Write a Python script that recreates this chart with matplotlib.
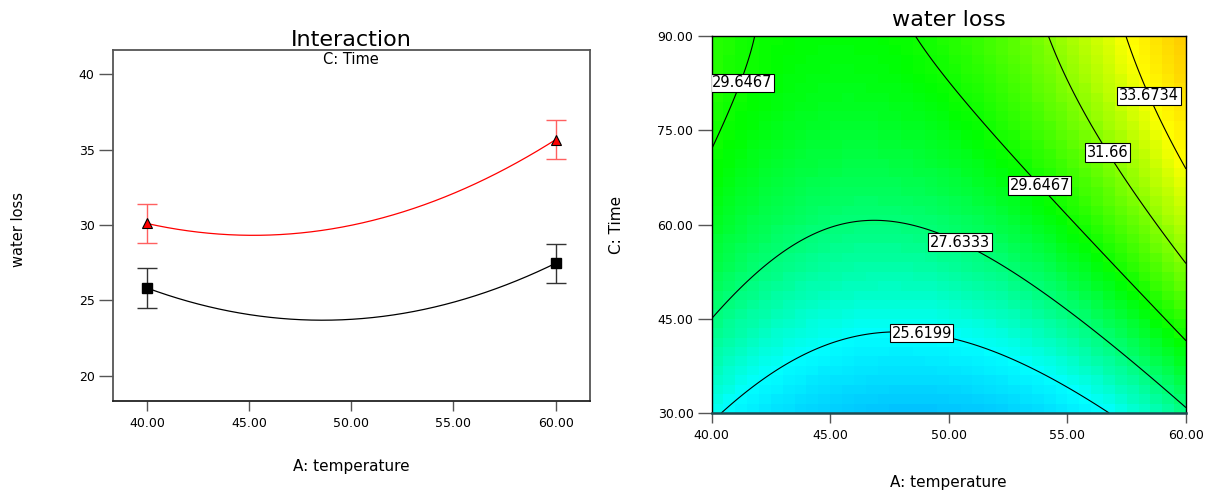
import matplotlib
matplotlib.use("Agg")
import matplotlib.pyplot as plt
from matplotlib.colors import LinearSegmentedColormap
import numpy as np

plt.rcParams['font.family'] = ['DejaVu Sans']

# interaction: means at A = 40 / 60, for C low (30) and C high (90)
temp_levels = [40.0, 60.0]
loss_time_low = [25.82, 27.46]
loss_time_high = [30.10, 35.66]
err_time_low = [1.3, 1.3]
err_time_high = [1.3, 1.3]

# quadratic model, coded a=(A-50)/10, c=(C-60)/30: b0, bA, bC, bAC, bA2, bC2
coefs = [27.85, 1.80, 3.12, 0.98, 2.90, -0.99]

contour_levels = [25.6199, 27.6333, 29.6467, 31.66, 33.6734]


def water_loss(A, C):
    a = (np.asarray(A) - 50.0) / 10.0
    c = (np.asarray(C) - 60.0) / 30.0
    b0, bA, bC, bAC, bA2, bC2 = coefs
    return b0 + bA*a + bC*c + bAC*a*c + bA2*a**2 + bC2*c**2


fig = plt.figure(figsize=(12.06, 4.96), dpi=100)
gray = '#555555'

# ---------------- left: interaction plot ----------------
ax1 = fig.add_axes([0.0934, 0.1915, 0.3958, 0.7077])
aa = np.linspace(40, 60, 200)
ax1.plot(aa, water_loss(aa, 30), color='k', lw=0.9)
ax1.plot(aa, water_loss(aa, 90), color='red', lw=0.9)
ax1.errorbar(temp_levels, loss_time_low, yerr=err_time_low, fmt='none',
             ecolor='#333333', elinewidth=1, capsize=7.3, capthick=1)
ax1.errorbar(temp_levels, loss_time_high, yerr=err_time_high, fmt='none',
             ecolor='#ff6060', elinewidth=1, capsize=7.3, capthick=1)
ax1.plot(temp_levels, loss_time_low, 's', color='k', ms=6.5, zorder=5)
ax1.plot(temp_levels, loss_time_high, '^', mfc='red', mec='k', mew=0.8,
         ms=7.5, zorder=5)

ax1.set_xlim(38.32, 61.68)
ax1.set_ylim(18.32, 41.61)
ax1.set_xticks([40, 45, 50, 55, 60])
ax1.set_xticklabels(['40.00', '45.00', '50.00', '55.00', '60.00'])
ax1.set_yticks([20, 25, 30, 35, 40])
ax1.tick_params(axis='y', length=10, width=1, color=gray, labelsize=9, pad=3)
ax1.tick_params(axis='x', length=7.5, width=1, color=gray, labelsize=9, pad=4)
for sp in ax1.spines.values():
    sp.set_color(gray)
    sp.set_linewidth(1.3)
ax1.spines['bottom'].set_color('#222222')
ax1.set_title('Interaction', fontsize=16, pad=3)
ax1.text(0.5, 0.974, 'C: Time', transform=ax1.transAxes, ha='center',
         va='center', fontsize=10.5)
ax1.set_xlabel('A: temperature', fontsize=11)
ax1.xaxis.set_label_coords(0.5, -0.165)
ax1.set_ylabel('water loss', fontsize=10.5)
ax1.yaxis.set_label_coords(-0.182, 0.49)

# ---------------- right: contour plot ----------------
ax2 = fig.add_axes([0.590, 0.1673, 0.3934, 0.760])
xe = np.linspace(40, 60, 41)
ye = np.linspace(30, 90, 41)
xc = (xe[:-1] + xe[1:]) / 2
yc = (ye[:-1] + ye[1:]) / 2
XC, YC = np.meshgrid(xc, yc)

vmin, vmax = 17.7, 42.6
nodes = [(0.0, (0, 0, 1)),
         ((25.6 - vmin) / (vmax - vmin), (0, 1, 1)),
         ((29.4 - vmin) / (vmax - vmin), (0, 1, 0)),
         ((33.7 - vmin) / (vmax - vmin), (1, 1, 0)),
         (1.0, (1, 0, 0))]
cmap = LinearSegmentedColormap.from_list('de', nodes)
ax2.pcolormesh(xe, ye, water_loss(XC, YC), cmap=cmap, vmin=vmin, vmax=vmax,
               shading='flat')

xf = np.linspace(40, 60, 300)
yf = np.linspace(30, 90, 300)
XF, YF = np.meshgrid(xf, yf)
cs = ax2.contour(XF, YF, water_loss(XF, YF), levels=contour_levels,
                 colors='k', linewidths=0.8)
spots = [(41.4, 82.3), (58.5, 80.6), (56.8, 71.7), (54.0, 66.8),
         (50.6, 58.2), (48.9, 44.3)]
labels = ax2.clabel(cs, inline=False, fontsize=10.5, manual=spots,
                    fmt=lambda v: f"{v:g}")
for t in labels:
    t.set_rotation(0)
    t.set_bbox(dict(facecolor='white', edgecolor='k', linewidth=0.8, pad=1.2))
    t.set_zorder(6)
labels[0].set_x(41.3)

ax2.set_xlim(40, 60)
ax2.set_ylim(30, 90)
ax2.set_xticks([40, 45, 50, 55, 60])
ax2.set_xticklabels(['40.00', '45.00', '50.00', '55.00', '60.00'])
ax2.set_yticks([30, 45, 60, 75, 90])
ax2.set_yticklabels(['30.00', '45.00', '60.00', '75.00', '90.00'])
ax2.tick_params(axis='y', length=10, width=1, color=gray, labelsize=9, pad=3)
ax2.tick_params(axis='x', length=7.5, width=1, color=gray, labelsize=9, pad=4)
for sp in ax2.spines.values():
    sp.set_color('k')
    sp.set_linewidth(1.0)
ax2.spines['bottom'].set_color('#1f4a50')
ax2.spines['bottom'].set_linewidth(1.8)
ax2.set_title('water loss', fontsize=16, pad=7)
ax2.set_xlabel('A: temperature', fontsize=11)
ax2.xaxis.set_label_coords(0.5, -0.165)
ax2.set_ylabel('C: Time', fontsize=11)
ax2.yaxis.set_label_coords(-0.184, 0.5)

fig.savefig('out.png', dpi=100)
